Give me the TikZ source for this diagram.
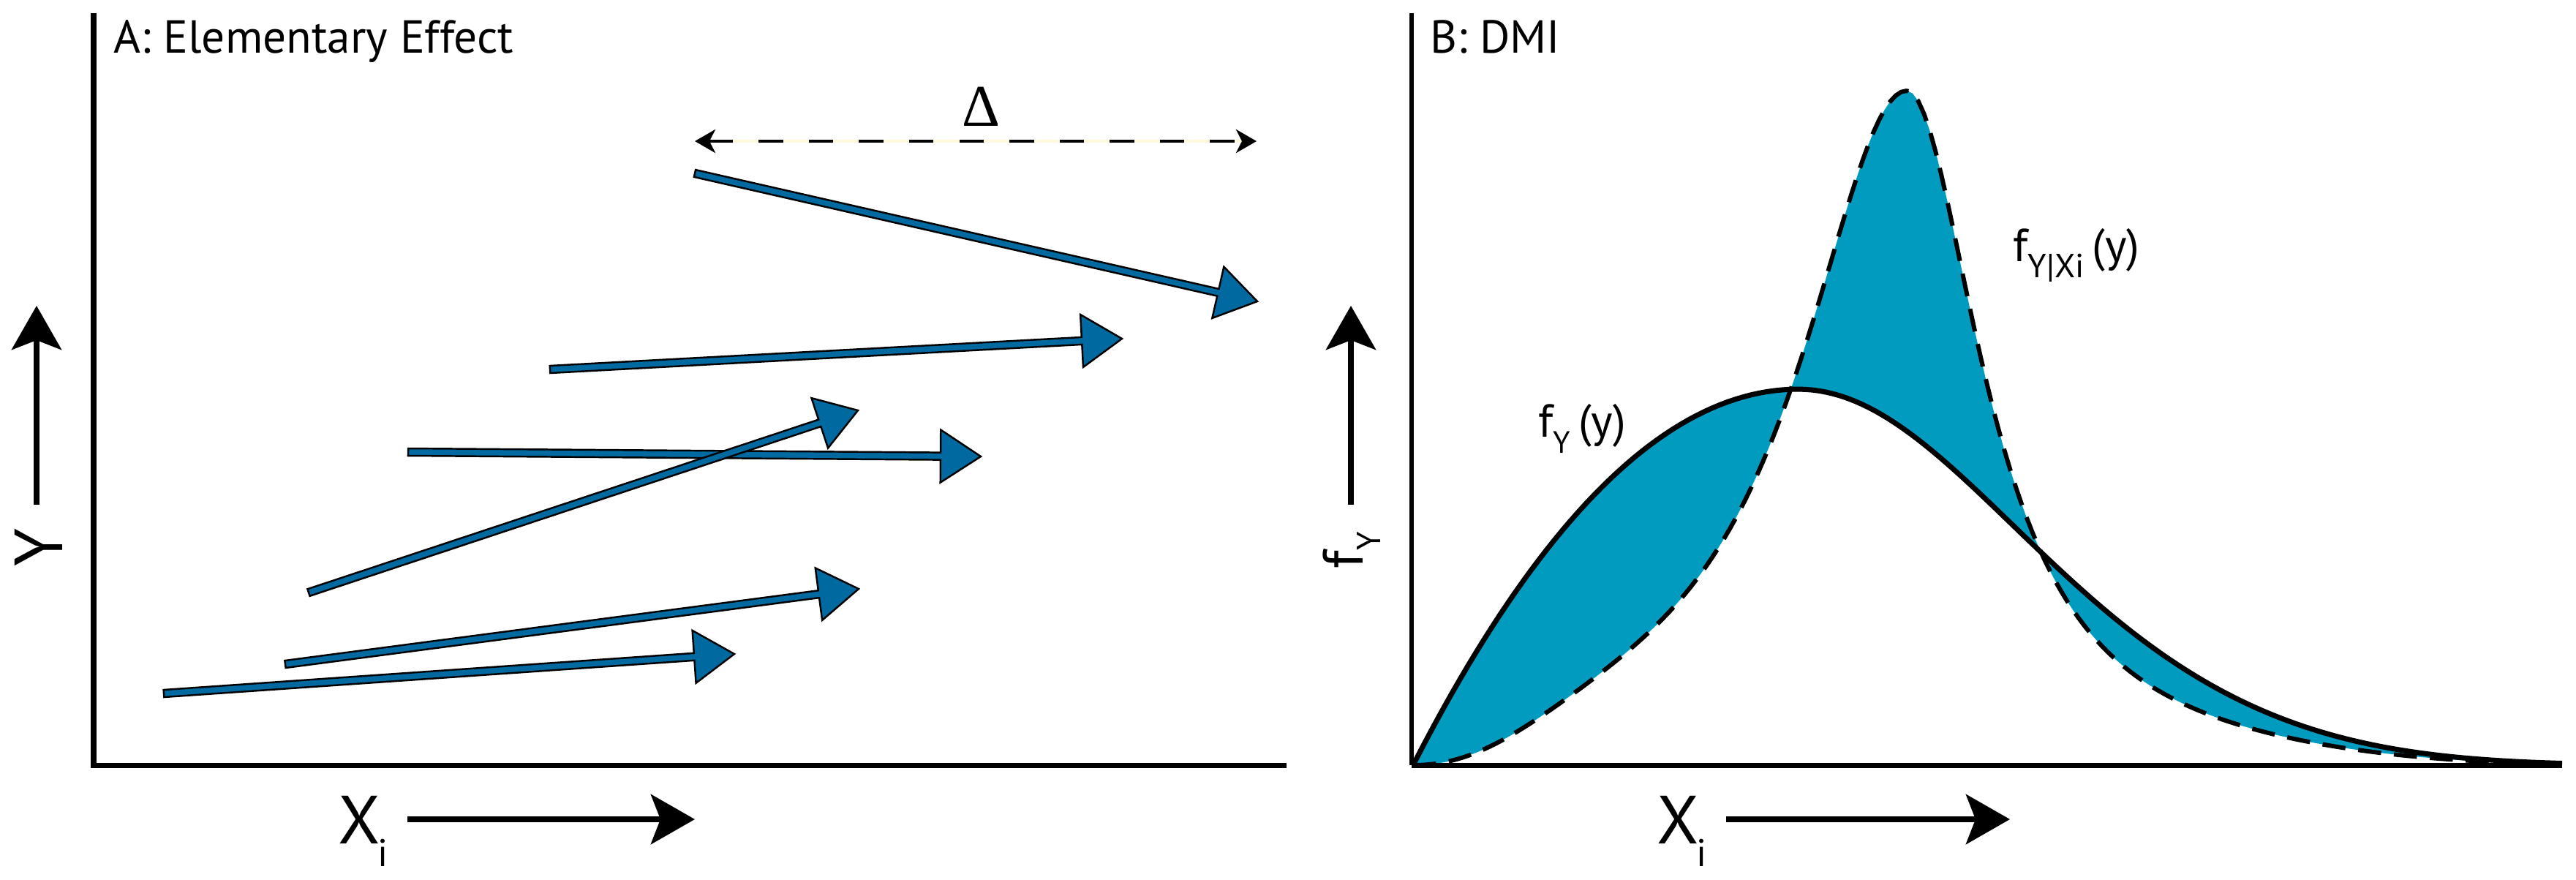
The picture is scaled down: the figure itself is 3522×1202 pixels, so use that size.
\documentclass[tikz,border=0pt]{standalone}
\usepackage{fontspec}
\setmainfont{PT Sans}
\newfontfamily\greekfont{Liberation Serif}
\usetikzlibrary{arrows.meta,calc}
\definecolor{eeblue}{RGB}{0,106,160}
\definecolor{dmifill}{RGB}{2,155,192}
\definecolor{creamgap}{RGB}{255,250,222}
\newcommand{\eearrow}[2]{%
  \coordinate (hb) at ($(#2)!0.55cm!(#1)$);
  \filldraw[eestyle]
    ($(#1)!0.05cm!90:(#2)$) -- ($(hb)!0.05cm!90:(#2)$) -- ($(hb)!0.36cm!90:(#2)$) --
    (#2) -- ($(hb)!0.36cm!-90:(#2)$) -- ($(hb)!0.05cm!-90:(#2)$) --
    ($(#1)!0.05cm!-90:(#2)$) -- cycle;}
\begin{document}
\begin{tikzpicture}[x=0.01cm,y=-0.01cm,
  declare function={
    solidL(\x)=1046-514*((\x-1932)/527)*(2-(\x-1932)/527);
    solidR(\x)=1046-514*exp(-((\x-2459)/900)^4)/(cosh((\x-2459)/427)^2);
    dashL(\x)=1046-922*(1-exp(-((\x-1932)/172)^2))/(1+((\x-2607)/178)^2);
    dashR(\x)=1046-922*exp(-((\x-2607)/714)^4)/(1+((\x-2607)/125)^2);
  },
  eestyle/.style={fill=eeblue, draw=black, line width=0.7pt, line join=miter},
  axisA/.style={line width=2pt, line join=miter},
  axarrow/.style={line width=2.2pt, -{Stealth[length=0.6cm,width=0.68cm,inset=0.13cm]}},
  deltaarrow/.style={line width=1.2pt, dash pattern=on 9.5pt off 10pt,
     {Stealth[length=0.28cm,width=0.32cm,inset=0.08cm]}-{Stealth[length=0.28cm,width=0.32cm,inset=0.08cm]}},
  solidcurve/.style={line width=2pt, line join=round},
  dashcurve/.style={line width=1.7pt, dash pattern=on 9pt off 5pt, line join=round},
  title/.style={font=\fontsize{18pt}{20pt}\selectfont, anchor=base west, inner sep=0pt},
  biglabel/.style={font=\fontsize{26.5pt}{28pt}\selectfont, inner sep=0pt},
  curvelabel/.style={font=\fontsize{18pt}{20pt}\selectfont, anchor=base west, inner sep=0pt}]
\useasboundingbox (0,0) rectangle (3522,1202);

% ---------------- Panel A ----------------
\coordinate (aTop) at (128,18);
\coordinate (aOrig) at (128,1046);
\coordinate (aRight) at (1759,1046);
\draw[axisA] (aTop) -- (aOrig) -- (aRight);
\node[title] (titleA) at (155,72) {A: Elementary Effect};

\coordinate (yA1) at (50,690);
\coordinate (yA2) at (50,418);
\draw[axarrow] (yA1) -- (yA2);
\node[biglabel, rotate=90] (labY) at (53,748) {Y};

\coordinate (xA1) at (557,1120);
\coordinate (xA2) at (950,1120);
\draw[axarrow] (xA1) -- (xA2);
\node[biglabel, anchor=base west] (labXA) at (462,1153) {X\kern-1pt\raisebox{-9pt}{\fontsize{15pt}{15pt}\selectfont i}};

\coordinate (dL) at (950,193);
\coordinate (dR) at (1718,193);
\draw[creamgap, line width=1.2pt] ($(dL)+(20,0)$) -- ($(dR)+(-20,0)$);
\draw[deltaarrow] (dL) -- (dR);
\node[font=\greekfont\fontsize{23pt}{24pt}\selectfont, inner sep=0pt] (delta) at (1341,146) {Δ};

\coordinate (s1) at (950,237);  \coordinate (t1) at (1719,412);
\coordinate (s2) at (752,505);  \coordinate (t2) at (1534,463);
\coordinate (s3) at (558,618);  \coordinate (t3) at (1341,624);
\coordinate (s4) at (422,810);  \coordinate (t4) at (1173,561);
\coordinate (s5) at (390,908);  \coordinate (t5) at (1174,805);
\coordinate (s6) at (224,948);  \coordinate (t6) at (1004,894);
\eearrow{s1}{t1}
\eearrow{s2}{t2}
\eearrow{s3}{t3}
\eearrow{s4}{t4}
\eearrow{s5}{t5}
\eearrow{s6}{t6}

% ---------------- Panel B ----------------
\fill[dmifill, even odd rule]
  plot[domain=1932:2459, samples=50] (\x,{solidL(\x)}) -- plot[domain=2459:3503, samples=110] (\x,{solidR(\x)}) -- cycle
  plot[domain=1932:2607, samples=90] (\x,{dashL(\x)}) -- plot[domain=2607:3460, samples=110] (\x,{dashR(\x)}) -- cycle;

\draw[solidcurve] plot[domain=1932:2459, samples=50] (\x,{solidL(\x)}) -- plot[domain=2459:3503, samples=110] (\x,{solidR(\x)});
\draw[dashcurve] plot[domain=1932:2607, samples=90] (\x,{dashL(\x)}) -- plot[domain=2607:3460, samples=110] (\x,{dashR(\x)});

\coordinate (bTop) at (1930,18);
\coordinate (bOrig) at (1930,1046);
\coordinate (bRight) at (3503,1046);
\draw[line width=1.6pt] (bTop) -- (bOrig);
\draw[line width=2pt] (bOrig) -- (bRight);
\node[title] (titleB) at (1955,72) {B: DMI};

\coordinate (yB1) at (1847,690);
\coordinate (yB2) at (1847,418);
\draw[axarrow] (yB1) -- (yB2);
\node[font=\fontsize{22pt}{24pt}\selectfont, inner sep=0pt, rotate=90] (labfY) at (1848,752) {f\raisebox{-7pt}{\fontsize{13pt}{13pt}\selectfont Y}};

\coordinate (xB1) at (2360,1120);
\coordinate (xB2) at (2748,1120);
\draw[axarrow] (xB1) -- (xB2);
\node[biglabel, anchor=base west] (labXB) at (2265,1153) {X\kern-1pt\raisebox{-9pt}{\fontsize{15pt}{15pt}\selectfont i}};

\node[curvelabel] (labfy) at (2103,597) {f\raisebox{-6.5pt}{\fontsize{12pt}{12pt}\selectfont Y}\,(y)};
\node[curvelabel] (labfyx) at (2752,357) {f\raisebox{-6.5pt}{\fontsize{13pt}{13pt}\selectfont Y|Xi}\,(y)};
\end{tikzpicture}
\end{document}
